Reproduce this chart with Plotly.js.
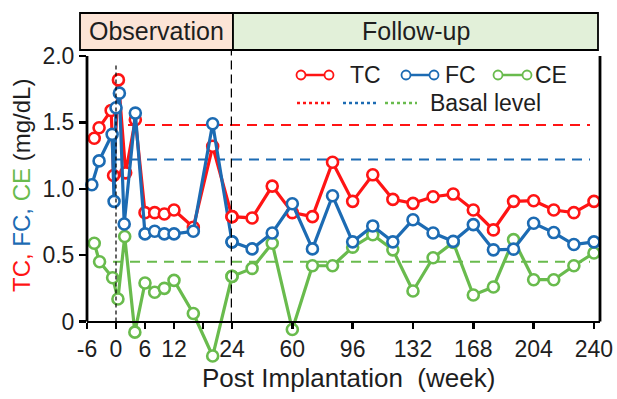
<!DOCTYPE html>
<html>
<head>
<meta charset="utf-8">
<script src="https://cdn.plot.ly/plotly-3.0.1.min.js"></script>
<style>html,body{margin:0;padding:0;background:#fff;}#chart{width:617px;height:399px;}</style>
</head>
<body>
<div id="chart"></div>
<script>
// ---------- data ----------
// Observation period (weeks -6..24)
const tcObsWeeks = [-4.5, -3.5, -1, -0.5, 0.5, 2, 4, 6, 8, 10, 12, 16, 20, 24];
const tcObs      = [1.38, 1.46, 1.59, 1.10, 1.82, 1.12, 1.52, 0.82, 0.82, 0.81, 0.84, 0.71, 1.32, 0.79];
const fcObsWeeks = [-5, -3.5, -0.8, -0.4, 0, 0.7, 1.7, 4, 6, 8, 10, 12, 16, 20, 24];
const fcObs      = [1.03, 1.21, 1.41, 0.905, 1.61, 1.72, 0.735, 1.57, 0.66, 0.68, 0.66, 0.66, 0.68, 1.49, 0.60];
const ceObsWeeks = [-4.5, -3.4, -0.7, 0.4, 1.8, 3.9, 6, 8, 10, 12, 16, 20, 24];
const ceObs      = [0.59, 0.45, 0.33, 0.17, 0.64, -0.08, 0.29, 0.22, 0.25, 0.31, 0.06, -0.26, 0.34];
// Follow-up period (weeks 24..240)
const fuWeeks = [24, 36, 48, 60, 72, 84, 96, 108, 120, 132, 144, 156, 168, 180, 192, 204, 216, 228, 240];
const tcFu = [0.79, 0.78, 1.02, 0.82, 0.79, 1.20, 0.905, 1.105, 0.92, 0.89, 0.94, 0.96, 0.84, 0.69, 0.905, 0.91, 0.84, 0.82, 0.905];
const fcFu = [0.60, 0.547, 0.667, 0.887, 0.547, 0.947, 0.60, 0.72, 0.60, 0.767, 0.667, 0.604, 0.73, 0.54, 0.545, 0.74, 0.67, 0.58, 0.60];
const ceFu = [0.34, 0.40, 0.59, -0.06, 0.42, 0.42, 0.56, 0.654, 0.54, 0.23, 0.48, 0.596, 0.20, 0.26, 0.617, 0.315, 0.315, 0.42, 0.516];
// Basal levels
const seriesNames = ['TC', 'FC', 'CE'];
const basalLevels = [1.48, 1.22, 0.45];
// Ticks
const obsTickVals = [-6, 0, 6, 12, 18, 24];
const obsTickText = ['-6', '0', '6', '12', '', '24'];
const fuTickVals = [60, 96, 132, 168, 204, 240];
const fuTickText = ['60', '96', '132', '168', '204', '240'];
const yTickVals = [0, 0.5, 1, 1.5, 2];
const yTickText = ['0', '0.5', '1.0', '1.5', '2.0'];

// ---------- styles ----------
const colors = ['#ff1414', '#1c6bb3', '#69bb4d'];
const FONT = 'Liberation Sans, Arial, sans-serif';
const TXT = '#1e1e1e';
const yLo = -0.32, yHi = 2.0;
const L = 87, R = 17, T = 56, B = 35, W = 617, H = 399;
const plotW = W - L - R, plotH = H - T - B;
const px = p => (p - L) / plotW;
const py = p => (H - B - p) / plotH;
const split = px(232);
const axisPos = (0 - yLo) / (yHi - yLo);

function tr(x, y, i, xa) {
  return {
    x: x, y: y, xaxis: xa, yaxis: 'y', type: 'scatter', mode: 'lines+markers',
    name: seriesNames[i], showlegend: false, cliponaxis: false,
    line: {color: colors[i], width: 3.2},
    marker: {symbol: 'circle', size: 11, color: '#ffffff', line: {color: colors[i], width: 2.6}}
  };
}
const data = [
  tr(tcObsWeeks, tcObs, 0, 'x'), tr(fuWeeks, tcFu, 0, 'x2'),
  tr(ceObsWeeks, ceObs, 2, 'x'), tr(fuWeeks, ceFu, 2, 'x2'),
  tr(fcObsWeeks, fcObs, 1, 'x'), tr(fuWeeks, fcFu, 1, 'x2')
];

const shapes = [];
const annotations = [];
// basal level dashed lines
const basalStart = [128, 113, 113];
basalLevels.forEach((v, i) => {
  shapes.push({type: 'line', xref: 'paper', yref: 'y', x0: px(basalStart[i]), x1: px(590), y0: v, y1: v,
    line: {color: colors[i], width: 2, dash: '10px,7px'}, layer: 'below'});
});
// axes frame lines
shapes.push({type: 'line', xref: 'paper', yref: 'y', x0: 0, x1: 0, y0: 0, y1: 2.0, line: {color: '#000', width: 2.8}});
shapes.push({type: 'line', xref: 'paper', yref: 'y', x0: 1, x1: 1, y0: 0, y1: 2.0, line: {color: '#000', width: 2.8}});
// vertical markers
shapes.push({type: 'line', xref: 'x', yref: 'y', x0: 0, x1: 0, y0: 0, y1: 1.95, line: {color: '#000', width: 1.2, dash: '4px,3px'}});
shapes.push({type: 'line', xref: 'x', yref: 'paper', x0: 24, x1: 24, y0: axisPos, y1: py(50), line: {color: '#000', width: 2.5, dash: '9px,5px'}});
// header boxes
shapes.push({type: 'rect', xref: 'paper', yref: 'paper', x0: px(80), x1: px(233), y0: py(50), y1: py(13),
  fillcolor: '#fce4d6', line: {color: '#000', width: 1.8}});
shapes.push({type: 'rect', xref: 'paper', yref: 'paper', x0: px(233), x1: px(598), y0: py(50), y1: py(13),
  fillcolor: '#e2f0d9', line: {color: '#000', width: 1.8}});
annotations.push({xref: 'paper', yref: 'paper', x: px(156.5), y: py(31.5), text: 'Observation', showarrow: false,
  font: {family: FONT, size: 25, color: TXT}, xanchor: 'center', yanchor: 'middle'});
annotations.push({xref: 'paper', yref: 'paper', x: px(416), y: py(31.5), text: 'Follow-up', showarrow: false,
  font: {family: FONT, size: 25, color: TXT}, xanchor: 'center', yanchor: 'middle'});

// legend (drawn manually)
const legRow1 = 75, legRow2 = 103;
const legSym = [[301, 329, 348], [406, 434, 443], [498, 527, 533]];
legSym.forEach((s, i) => {
  shapes.push({type: 'line', xref: 'paper', yref: 'paper', x0: px(s[0]), x1: px(s[1]), y0: py(legRow1), y1: py(legRow1),
    line: {color: colors[i], width: 2.5}});
  [s[0], s[1]].forEach(cx => {
    shapes.push({type: 'circle', xref: 'paper', yref: 'paper', xsizemode: 'pixel', ysizemode: 'pixel',
      xanchor: px(cx), yanchor: py(legRow1), x0: -4.5, x1: 4.5, y0: -4.5, y1: 4.5,
      fillcolor: '#fff', line: {color: colors[i], width: 1.8}});
  });
  annotations.push({xref: 'paper', yref: 'paper', x: px(s[2]), y: py(legRow1), text: seriesNames[i], showarrow: false,
    font: {family: FONT, size: 23, color: TXT}, xanchor: 'left', yanchor: 'middle'});
});
const legDots = [[297, 332], [343, 378], [385, 417]];
legDots.forEach((s, i) => {
  shapes.push({type: 'line', xref: 'paper', yref: 'paper', x0: px(s[0]), x1: px(s[1]), y0: py(legRow2), y1: py(legRow2),
    line: {color: colors[i], width: 2.5, dash: 'dot'}});
});
annotations.push({xref: 'paper', yref: 'paper', x: px(428), y: py(legRow2), text: 'Basal level', showarrow: false,
  font: {family: FONT, size: 23, color: TXT}, xanchor: 'left', yanchor: 'middle'});

// axis titles
annotations.push({xref: 'paper', yref: 'paper', x: px(348), y: py(378), text: 'Post Implantation\u00a0 (week)', showarrow: false,
  font: {family: FONT, size: 26, color: TXT}, xanchor: 'center', yanchor: 'middle'});
annotations.push({xref: 'paper', yref: 'paper', x: px(21), y: py(186), textangle: -90, showarrow: false,
  text: '<span style="color:' + colors[0] + '">TC,</span> <span style="color:' + colors[1] + '">FC,</span> <span style="color:' + colors[2] + '">CE</span> (mg/dL)',
  font: {family: FONT, size: 24, color: TXT}, xanchor: 'center', yanchor: 'middle'});

const xCommon = {
  anchor: 'free', position: axisPos, showline: true, linecolor: '#000', linewidth: 2.8,
  ticks: 'outside', ticklen: 6, tickwidth: 2.5, tickcolor: '#000', showgrid: false, zeroline: false,
  tickfont: {family: FONT, size: 23, color: TXT}, tickmode: 'array', fixedrange: true
};
const layout = {
  width: W, height: H, margin: {l: L, r: R, t: T, b: B, pad: 0},
  paper_bgcolor: '#fff', plot_bgcolor: '#fff', showlegend: false,
  xaxis: Object.assign({}, xCommon, {domain: [0, split], range: [-6, 24], tickvals: obsTickVals, ticktext: obsTickText}),
  xaxis2: Object.assign({}, xCommon, {domain: [split, 1], range: [24, 243.6], tickvals: fuTickVals, ticktext: fuTickText}),
  yaxis: {range: [yLo, yHi], showline: false, showgrid: false, zeroline: false, ticks: 'outside', ticklen: 7,
    tickwidth: 2.5, tickcolor: '#000', tickmode: 'array', tickvals: yTickVals, ticktext: yTickText,
    tickfont: {family: FONT, size: 23, color: TXT}, fixedrange: true},
  shapes: shapes, annotations: annotations
};
Plotly.newPlot('chart', data, layout, {displayModeBar: false, staticPlot: true});
</script>
</body>
</html>
